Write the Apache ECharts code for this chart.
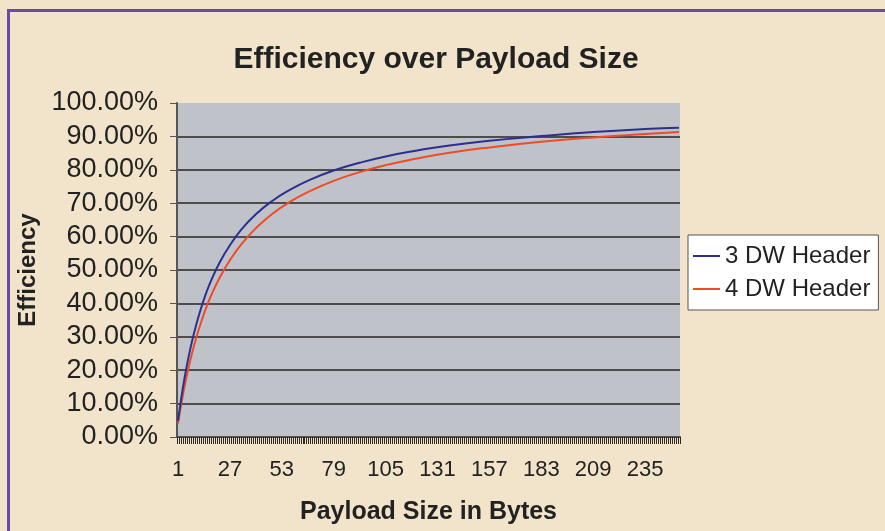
<!DOCTYPE html>
<html>
<head>
<meta charset="utf-8">
<script src="https://cdn.jsdelivr.net/npm/echarts@6/dist/echarts.min.js"></script>
<style>
  html, body { margin: 0; padding: 0; overflow: hidden; background: #f2e4cb; }
  #chart { width: 885px; height: 531px; }
  #frame {
    position: absolute; left: 7px; top: 9px; width: 950px; height: 600px;
    border: 3px solid #6b4ba1; pointer-events: none;
  }
</style>
</head>
<body>
<div id="chart"></div>
<div id="frame"></div>
<script>
// payload sizes (bytes) on the category axis
let payloadSizes = [];
for (let i = 1; i <= 252; i++) payloadSizes.push(String(i));

// points
let samplePayloads = [1, 2, 3, 4, 5, 6, 8, 10, 12, 15, 18, 22, 27, 33, 40, 48, 57, 67, 79, 92, 105, 120, 137, 157, 183, 209, 235, 252];
let header3DW = [0.048, 0.091, 0.130, 0.167, 0.200, 0.231, 0.286, 0.333, 0.375, 0.429, 0.474, 0.524, 0.574, 0.623, 0.667, 0.706, 0.740, 0.770, 0.798, 0.821, 0.840, 0.857, 0.873, 0.887, 0.901, 0.913, 0.922, 0.926];
let header4DW = [0.040, 0.077, 0.111, 0.143, 0.172, 0.200, 0.250, 0.294, 0.333, 0.385, 0.429, 0.478, 0.529, 0.579, 0.625, 0.667, 0.704, 0.736, 0.767, 0.793, 0.814, 0.833, 0.851, 0.867, 0.884, 0.897, 0.907, 0.913];

let seriesNames = ['3 DW Header', '4 DW Header'];
let seriesColors = ['#2d2f8f', '#f04a26'];

// gridlines 0%..90% dark, none along the top edge (100%)
let gridColors = [];
for (let i = 0; i < 10; i++) gridColors.push('#4d4d4d');
gridColors.push('rgba(0,0,0,0)');

let chart = echarts.init(document.getElementById('chart'));
let option = {
  backgroundColor: '#f2e4cb',
  textStyle: { fontFamily: 'Liberation Sans, Arial, sans-serif' },
  title: {
    text: 'Efficiency over Payload Size',
    left: 431,
    top: 40,
    textAlign: 'center',
    textStyle: { fontSize: 30, fontWeight: 'bold', color: '#222' }
  },
  legend: {
    orient: 'vertical',
    left: 688,
    top: 235,
    padding: [9, 8, 9, 5],
    itemGap: 9,
    itemWidth: 27,
    itemHeight: 2,
    icon: 'rect',
    backgroundColor: '#fff',
    borderColor: '#555',
    borderWidth: 1,
    textStyle: { fontSize: 24, color: '#222' },
    data: seriesNames
  },
  grid: {
    left: 177,
    right: 205,
    top: 103,
    bottom: 94,
    show: true,
    backgroundColor: '#bfc3c9',
    borderWidth: 0
  },
  xAxis: {
    type: 'category',
    data: payloadSizes,
    boundaryGap: true,
    name: 'Payload Size in Bytes',
    nameLocation: 'middle',
    nameGap: 63,
    nameTextStyle: { fontSize: 25, fontWeight: 'bold', color: '#222' },
    axisLine: { lineStyle: { color: '#555', width: 2 } },
    axisTick: { show: true, interval: 0, length: 7, lineStyle: { color: '#2e2620', width: 1 } },
    axisLabel: { interval: 25, fontSize: 22, color: '#222', margin: 22 },
    splitLine: { show: false }
  },
  yAxis: {
    type: 'value',
    min: 0,
    max: 1,
    interval: 0.1,
    name: 'Efficiency',
    nameLocation: 'middle',
    nameGap: 132,
    nameRotate: 90,
    nameTextStyle: { fontSize: 24, fontWeight: 'bold', color: '#222' },
    axisLine: { show: true, lineStyle: { color: '#555', width: 2 } },
    axisTick: { show: true, length: 7, lineStyle: { color: '#555' } },
    axisLabel: {
      fontSize: 27,
      color: '#222',
      margin: 19,
      formatter: (v) => (v * 100).toFixed(2) + '%'
    },
    splitLine: { lineStyle: { color: gridColors, width: 2 } }
  },
  series: [header3DW, header4DW].map((vals, k) => ({
    name: seriesNames[k],
    type: 'line',
    data: samplePayloads.map((p, i) => [String(p), vals[i]]),
    smooth: true,
    symbol: 'none',
    lineStyle: { color: seriesColors[k], width: 2 },
    itemStyle: { color: seriesColors[k] },
    z: 3 - k
  }))
};
chart.setOption(option);
</script>
</body>
</html>
